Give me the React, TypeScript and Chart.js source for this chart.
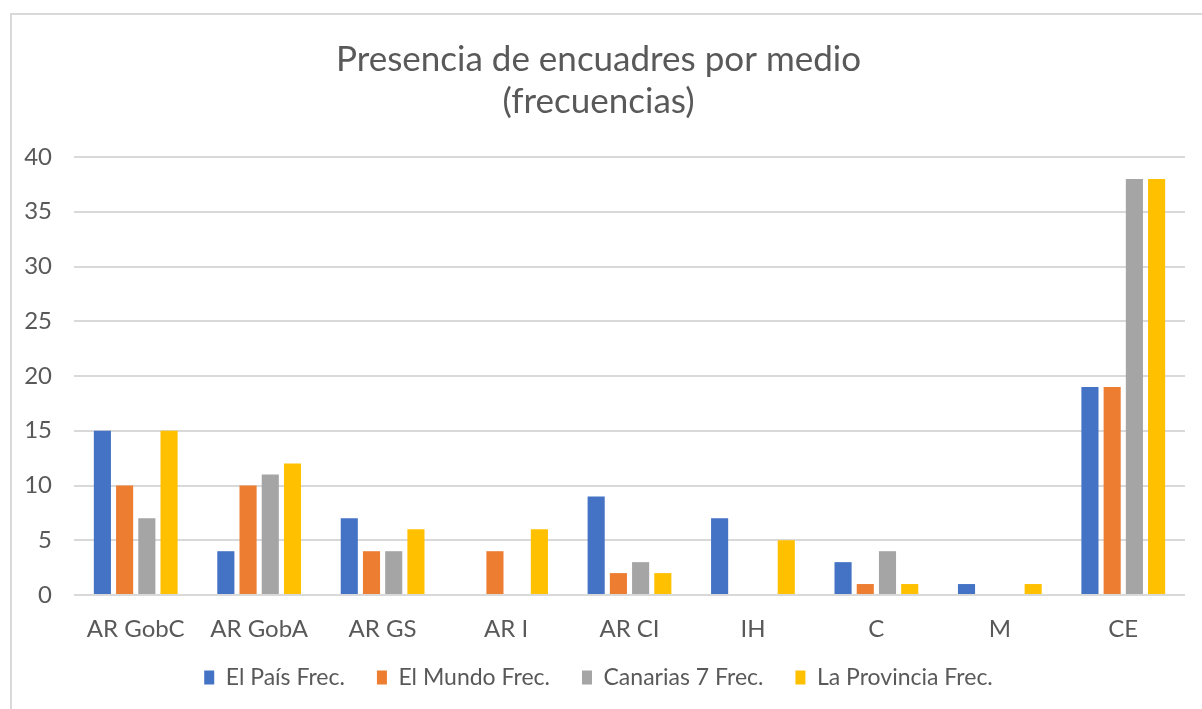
import React, { useEffect, useRef } from "react";
import { Chart, registerables } from "chart.js";

Chart.register(...registerables);

const categories = ["AR GobC", "AR GobA", "AR GS", "AR I", "AR CI", "IH", "C", "M", "CE"];
const elPais = [15, 4, 7, 0, 9, 7, 3, 1, 19];
const elMundo = [10, 10, 4, 4, 2, 0, 1, 0, 19];
const canarias7 = [7, 11, 4, 0, 3, 0, 4, 0, 38];
const laProvincia = [15, 12, 6, 6, 2, 5, 1, 1, 38];
const seriesNames = ["El País Frec.", "El Mundo Frec.", "Canarias 7 Frec.", "La Provincia Frec."];
const seriesColors = ["#4472C4", "#ED7D31", "#A5A5A5", "#FFC000"];
const titleLines = ["Presencia de encuadres por medio", "(frecuencias)"];

const FONT = "Lato, 'Open Sans', sans-serif";
const TEXT = "#595959";
const LEGEND_SHIFT = 29;

const legendTighten = {
  id: "legendTighten",
  afterInit(chart: any) {
    const lg = chart.legend;
    if (!lg) return;
    const orig = lg.fit.bind(lg);
    lg.fit = function () {
      orig();
      this.height = Math.max(0, this.height - LEGEND_SHIFT);
    };
  },
  afterLayout(chart: any) {
    const lg = chart.legend;
    if (!lg) return;
    lg.top -= LEGEND_SHIFT;
    lg.height += LEGEND_SHIFT;
  },
};

export default function App() {
  const ref = useRef<HTMLCanvasElement | null>(null);
  useEffect(() => {
    if (!ref.current) return;
    const values = [elPais, elMundo, canarias7, laProvincia];
    const chart = new Chart(ref.current, {
      type: "bar",
      data: {
        labels: categories,
        datasets: values.map((v, i) => ({
          label: seriesNames[i],
          data: v,
          backgroundColor: seriesColors[i],
          borderWidth: 0,
          categoryPercentage: 0.72,
          barPercentage: 0.77,
        })),
      },
      plugins: [legendTighten],
      options: {
        animation: false,
        responsive: false,
        maintainAspectRatio: false,
        layout: { padding: { left: 0, right: 19, top: 0, bottom: 22 } },
        plugins: {
          title: {
            display: true,
            text: titleLines,
            color: TEXT,
            font: { family: FONT, size: 35, weight: "normal", lineHeight: 1.2 },
            padding: { top: 24, bottom: 34 },
          },
          legend: {
            position: "bottom",
            labels: {
              color: TEXT,
              font: { family: FONT, size: 23 },
              boxWidth: 10,
              boxHeight: 14,
              padding: 32,
            },
          },
          tooltip: { enabled: false },
        },
        scales: {
          x: {
            grid: { display: false, drawTicks: false },
            border: { display: false },
            ticks: { color: TEXT, font: { family: FONT, size: 24, lineHeight: 1 }, padding: 22 },
          },
          y: {
            min: 0,
            max: 40,
            grid: { color: "#d9d9d9", lineWidth: 2, drawTicks: false },
            border: { display: false },
            ticks: { stepSize: 5, color: TEXT, font: { family: FONT, size: 24 }, padding: 22 },
            afterFit: (s: any) => {
              s.width = 62;
            },
          },
        },
      },
    });
    return () => chart.destroy();
  }, []);
  return (
    <div
      style={{
        position: "absolute",
        left: 10,
        top: 13,
        width: 1196,
        height: 710,
        boxSizing: "border-box",
        border: "2px solid #d9d9d9",
        background: "#fff",
      }}
    >
      <canvas ref={ref} width={1192} height={706} style={{ display: "block" }} />
    </div>
  );
}
